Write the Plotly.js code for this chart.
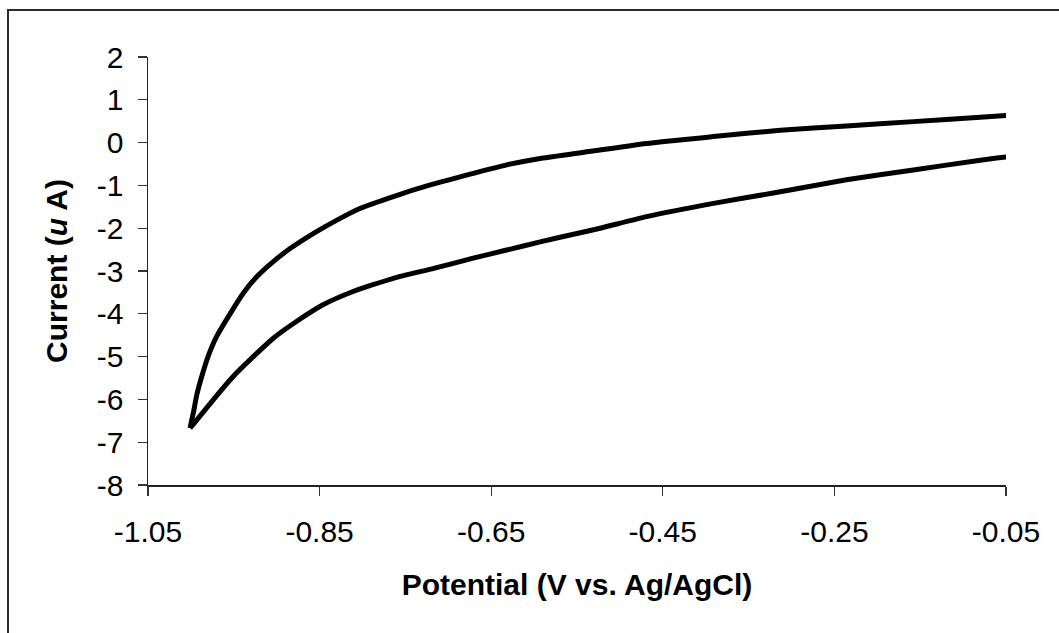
<!DOCTYPE html>
<html>
<head>
<meta charset="utf-8">
<script src="https://cdn.plot.ly/plotly-3.0.1.min.js"></script>
<style>
  html, body { margin: 0; padding: 0; background: #fff; overflow: hidden; }
  #wrap { position: relative; width: 1059px; height: 633px; }
  #chart { width: 1059px; height: 633px; }
  #frame { position: absolute; left: 7px; top: 9px; width: 1100px; height: 700px;
           border-top: 2px solid #2a2a2a; border-left: 2px solid #2a2a2a; pointer-events: none; }
</style>
</head>
<body>
<div id="wrap">
  <div id="chart"></div>
  <div id="frame"></div>
</div>
<script>
// Cathodic sweep (lower branch): from -0.05 V down to the switching potential
const potentialForward = [-0.047, -0.080, -0.158, -0.236, -0.313, -0.391, -0.469, -0.523, -0.554, -0.593, -0.632, -0.671, -0.717, -0.764, -0.811, -0.846, -0.877, -0.904, -0.923, -0.951, -0.974, -0.993, -1.001];
const currentForward   = [-0.33, -0.41, -0.64, -0.87, -1.15, -1.42, -1.73, -2.00, -2.14, -2.32, -2.51, -2.70, -2.94, -3.17, -3.48, -3.79, -4.18, -4.57, -4.92, -5.47, -6.01, -6.48, -6.67];
// Anodic (return) sweep (upper branch): from the switching potential back to -0.05 V
const potentialReverse = [-1.001, -0.997, -0.993, -0.987, -0.980, -0.970, -0.954, -0.939, -0.923, -0.904, -0.884, -0.857, -0.826, -0.803, -0.764, -0.721, -0.671, -0.632, -0.593, -0.550, -0.469, -0.391, -0.313, -0.236, -0.158, -0.080, -0.047];
const currentReverse   = [-6.67, -6.30, -5.88, -5.44, -5.00, -4.53, -3.99, -3.52, -3.13, -2.78, -2.47, -2.12, -1.77, -1.54, -1.26, -0.99, -0.72, -0.52, -0.37, -0.25, -0.02, 0.14, 0.29, 0.39, 0.49, 0.59, 0.64];

const xTickVals = [-1.05, -0.85, -0.65, -0.45, -0.25, -0.05];
const xTickText = ["-1.05", "-0.85", "-0.65", "-0.45", "-0.25", "-0.05"];
const yTickVals = [2, 1, 0, -1, -2, -3, -4, -5, -6, -7, -8];
const yTickText = ["2", "1", "0", "-1", "-2", "-3", "-4", "-5", "-6", "-7", "-8"];

const lineStyle = { color: "#000000", width: 5, shape: "spline", smoothing: 0.5 };

const traces = [
  { x: potentialForward, y: currentForward, type: "scatter", mode: "lines", line: lineStyle, showlegend: false, hoverinfo: "x+y" },
  { x: potentialReverse, y: currentReverse, type: "scatter", mode: "lines", line: lineStyle, showlegend: false, hoverinfo: "x+y" }
];

const fontFamily = "Liberation Sans, Arial, sans-serif";

const layout = {
  width: 1059,
  height: 633,
  paper_bgcolor: "#ffffff",
  plot_bgcolor: "#ffffff",
  margin: { l: 148, r: 53, t: 57, b: 148 },
  font: { family: fontFamily, color: "#000000", size: 30 },
  xaxis: {
    range: [-1.05, -0.05],
    tickmode: "array",
    tickvals: xTickVals,
    ticktext: xTickText,
    ticks: "outside",
    ticklen: 9,
    tickwidth: 1.2,
    tickcolor: "#333333",
    showline: true,
    linecolor: "#222222",
    linewidth: 1.5,
    showgrid: false,
    zeroline: false,
    mirror: false,
    ticklabelstandoff: 10,
    tickfont: { family: fontFamily, size: 30, color: "#000000" },
    title: { text: "Potential (V vs. Ag/AgCl)", font: { family: fontFamily, size: 30, weight: "bold", color: "#000000" }, standoff: 27 },
    automargin: false
  },
  yaxis: {
    range: [-8, 2],
    tickmode: "array",
    tickvals: yTickVals,
    ticktext: yTickText,
    ticks: "outside",
    ticklen: 9,
    tickwidth: 1.2,
    tickcolor: "#333333",
    showline: true,
    linecolor: "#222222",
    linewidth: 1.5,
    showgrid: false,
    zeroline: false,
    mirror: false,
    ticklabelstandoff: 8,
    tickfont: { family: fontFamily, size: 30, color: "#000000" },
    title: { text: "Current (<i>u</i> A)", font: { family: fontFamily, size: 30, weight: "bold", color: "#000000" }, standoff: 20 },
    automargin: false
  }
};

Plotly.newPlot("chart", traces, layout, { displayModeBar: false, staticPlot: true });
</script>
</body>
</html>
